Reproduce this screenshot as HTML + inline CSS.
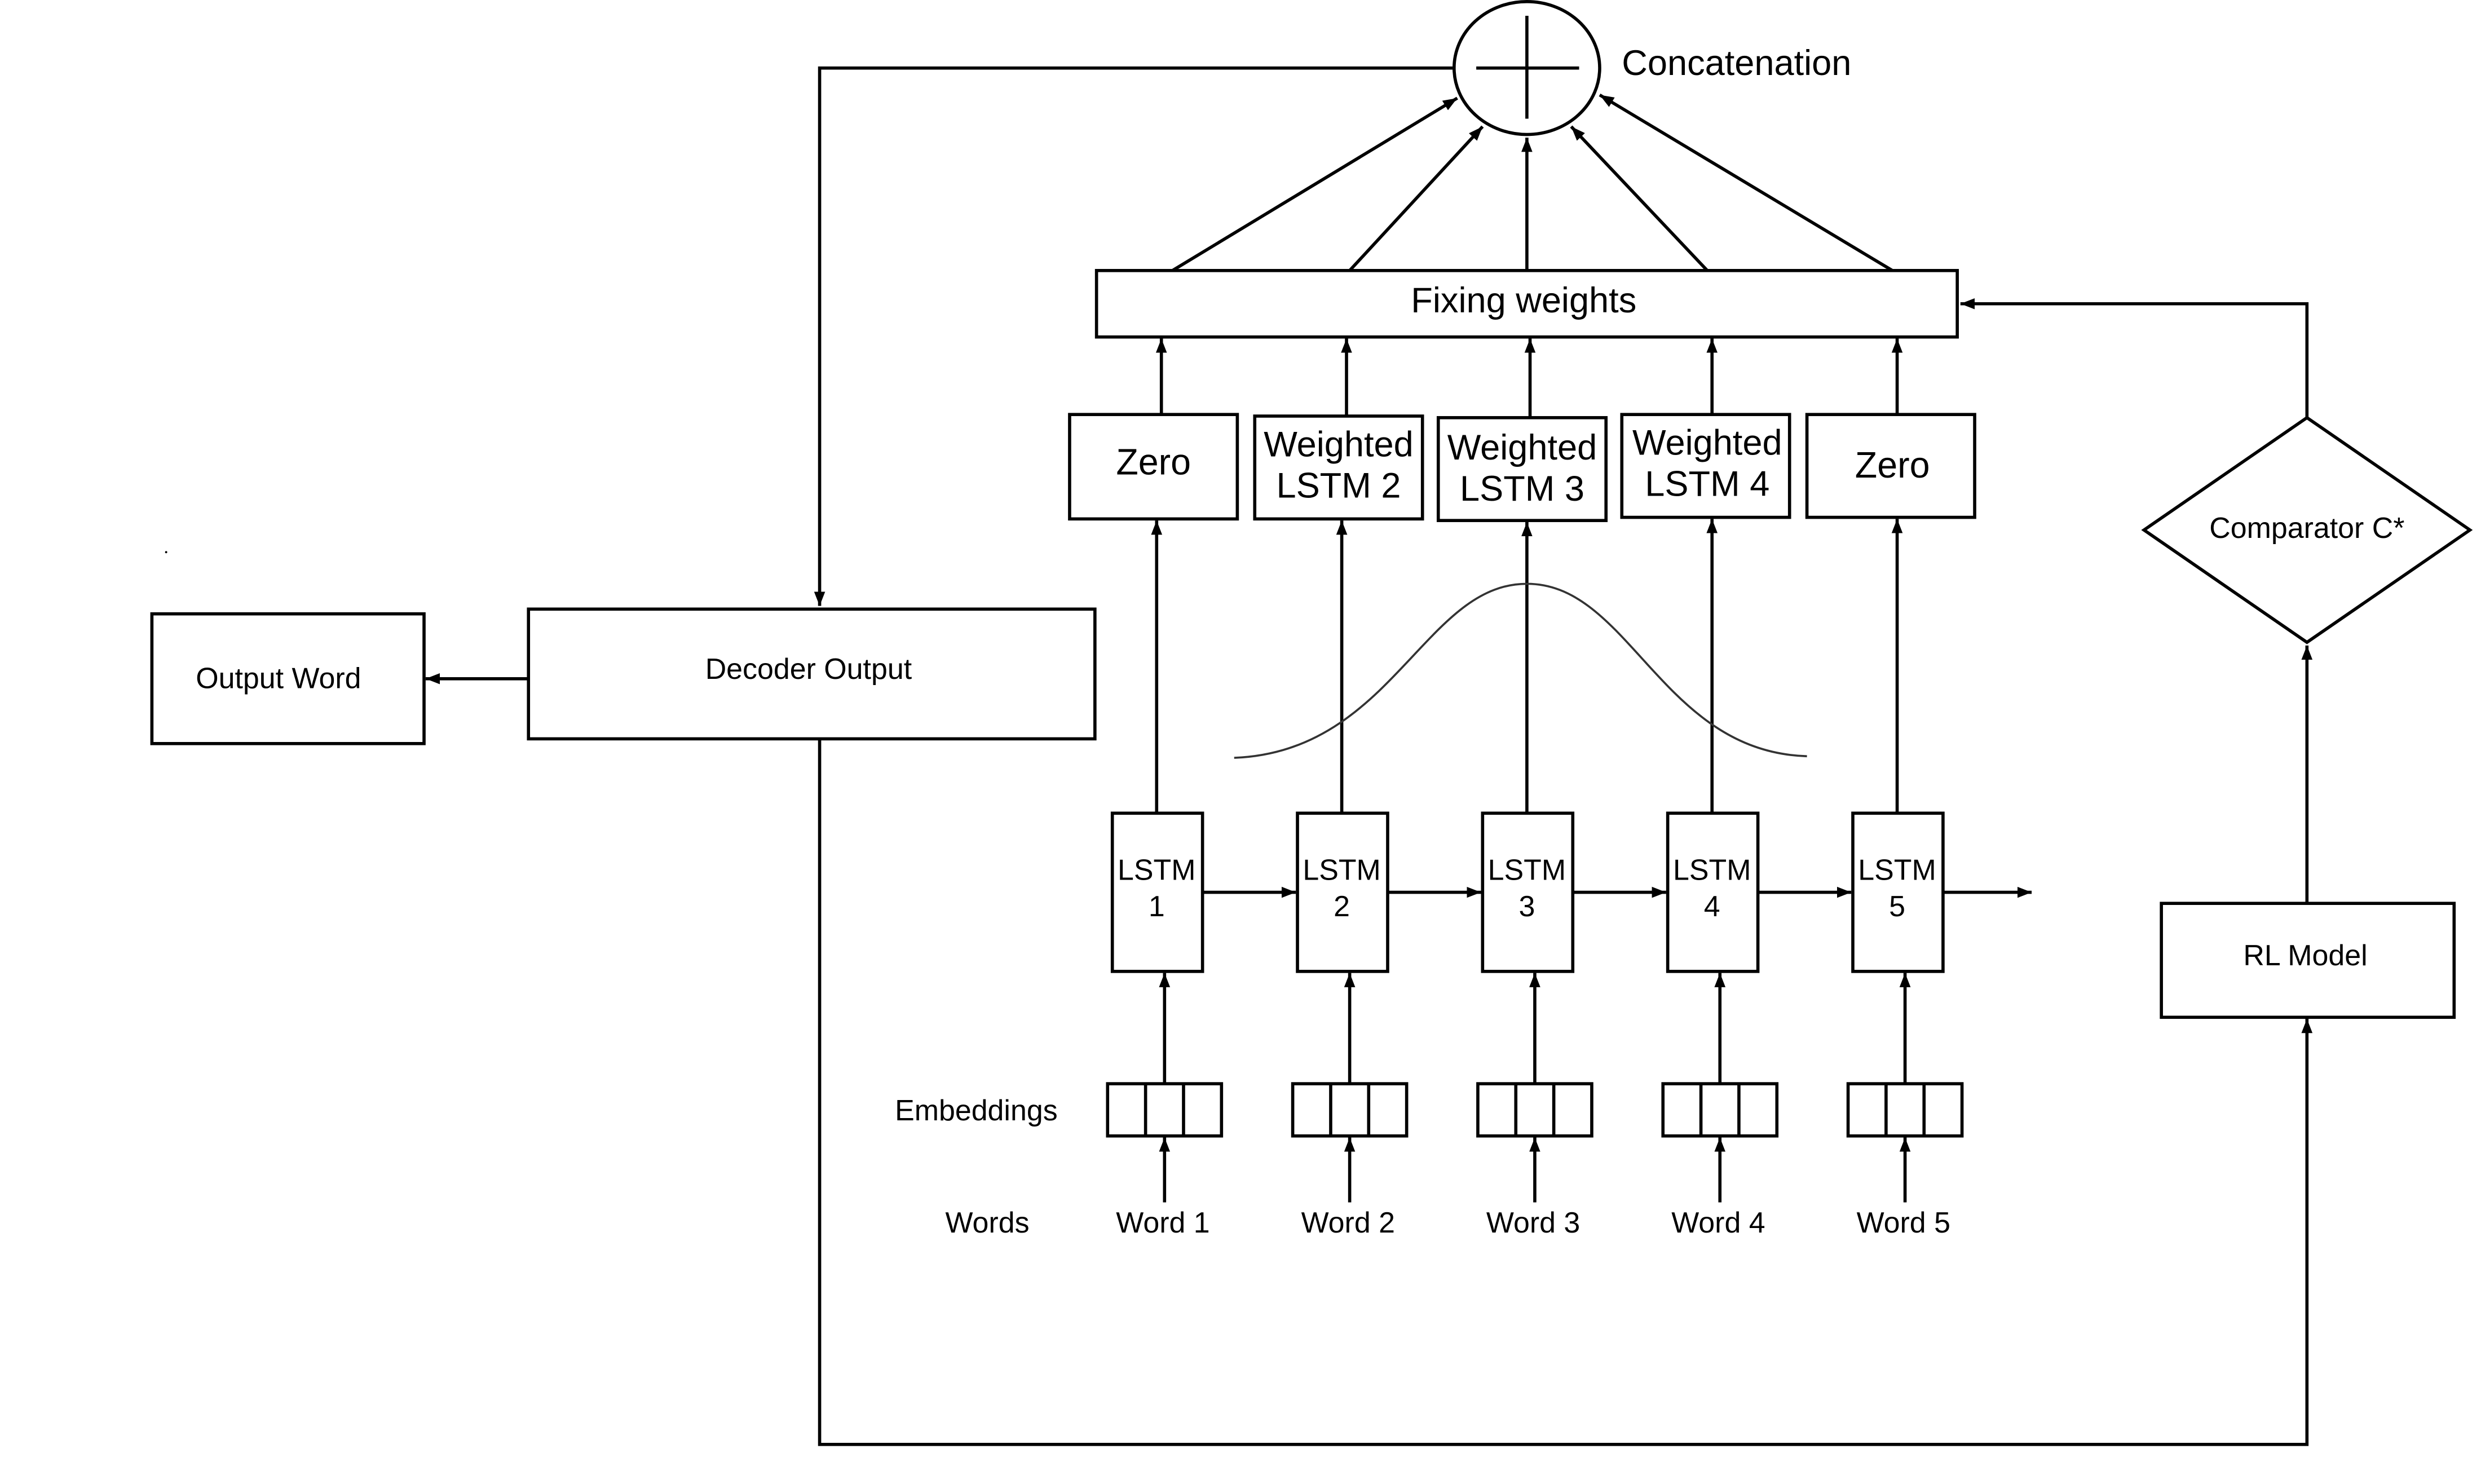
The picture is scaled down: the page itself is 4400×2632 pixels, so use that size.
<!DOCTYPE html>
<html><head><meta charset="utf-8"><style>html,body{margin:0;padding:0;background:#fff}svg{display:block}</style></head>
<body>
<svg width="4400" height="2632" viewBox="0 0 1568 938" preserveAspectRatio="none" xmlns="http://www.w3.org/2000/svg" font-family="Liberation Sans, sans-serif">
<defs>
<marker id="a" markerUnits="userSpaceOnUse" markerWidth="10" markerHeight="8" refX="9" refY="4" orient="auto"><path d="M0,0.5 L9,4 L0,7.5 z" fill="#000"/></marker>
</defs>
<rect width="1568" height="938" fill="#fff"/>
<g stroke="#000" stroke-width="2" fill="none">
<ellipse cx="965" cy="43" rx="46" ry="42"/>
<line x1="933" y1="43" x2="998" y2="43"/>
<line x1="965" y1="10" x2="965" y2="75"/>
<polyline points="918,43 518,43 518,383" marker-end="url(#a)"/>
<rect x="334" y="385" width="358" height="82"/>
<rect x="96" y="388" width="172" height="82"/>
<line x1="334" y1="429" x2="269" y2="429" marker-end="url(#a)"/>
<polyline points="518,467 518,913 1458,913 1458,644" marker-end="url(#a)"/>
<rect x="1366" y="571" width="185" height="72"/>
<line x1="1458" y1="571" x2="1458" y2="408" marker-end="url(#a)"/>
<polygon points="1355,335 1458,264 1561,335 1458,406"/>
<polyline points="1458,264 1458,192 1239,192" marker-end="url(#a)"/>
<rect x="693" y="171" width="544" height="42"/>
<line x1="741" y1="171" x2="921" y2="62" marker-end="url(#a)"/>
<line x1="853" y1="171" x2="937" y2="80" marker-end="url(#a)"/>
<line x1="965" y1="171" x2="965" y2="87" marker-end="url(#a)"/>
<line x1="1079" y1="171" x2="993" y2="80" marker-end="url(#a)"/>
<line x1="1196" y1="171" x2="1011" y2="60" marker-end="url(#a)"/>
<rect x="676" y="262" width="106" height="66"/>
<rect x="793" y="263" width="106" height="65"/>
<rect x="909" y="264" width="106" height="65"/>
<rect x="1025" y="262" width="106" height="65"/>
<rect x="1142" y="262" width="106" height="65"/>
<line x1="734" y1="262" x2="734" y2="214" marker-end="url(#a)"/>
<line x1="851" y1="263" x2="851" y2="214" marker-end="url(#a)"/>
<line x1="967" y1="264" x2="967" y2="214" marker-end="url(#a)"/>
<line x1="1082" y1="262" x2="1082" y2="214" marker-end="url(#a)"/>
<line x1="1199" y1="262" x2="1199" y2="214" marker-end="url(#a)"/>
<rect x="703" y="514" width="57" height="100"/>
<rect x="820" y="514" width="57" height="100"/>
<rect x="937" y="514" width="57" height="100"/>
<rect x="1054" y="514" width="57" height="100"/>
<rect x="1171" y="514" width="57" height="100"/>
<line x1="731" y1="514" x2="731" y2="329" marker-end="url(#a)"/>
<line x1="848" y1="514" x2="848" y2="329" marker-end="url(#a)"/>
<line x1="965" y1="514" x2="965" y2="330" marker-end="url(#a)"/>
<line x1="1082" y1="514" x2="1082" y2="328" marker-end="url(#a)"/>
<line x1="1199" y1="514" x2="1199" y2="328" marker-end="url(#a)"/>
<line x1="760" y1="564" x2="819" y2="564" marker-end="url(#a)"/>
<line x1="877" y1="564" x2="936" y2="564" marker-end="url(#a)"/>
<line x1="994" y1="564" x2="1053" y2="564" marker-end="url(#a)"/>
<line x1="1111" y1="564" x2="1170" y2="564" marker-end="url(#a)"/>
<line x1="1228" y1="564" x2="1284" y2="564" marker-end="url(#a)"/>
<path d="M780,479 C880,475 900,369 965,369 C1030,369 1050,475 1142,478" stroke="#333" stroke-width="1.3"/>
<g id="e"><rect x="700" y="685" width="72" height="33"/><line x1="724" y1="685" x2="724" y2="718"/><line x1="748" y1="685" x2="748" y2="718"/>
<line x1="736" y1="685" x2="736" y2="615" marker-end="url(#a)"/><line x1="736" y1="760" x2="736" y2="719" marker-end="url(#a)"/></g>
<use href="#e" x="117"/><use href="#e" x="234"/><use href="#e" x="351"/><use href="#e" x="468"/>
</g>
<circle cx="105" cy="349" r="0.7" fill="#000"/>
<g fill="#000" text-anchor="middle" dominant-baseline="central">
<text x="1025" y="40" font-size="22.5" text-anchor="start">Concatenation</text>
<text x="511" y="423" font-size="18.5">Decoder Output</text>
<text x="176" y="429" font-size="18.5">Output Word</text>
<text x="1457" y="604" font-size="18.5">RL Model</text>
<text x="1458" y="334" font-size="18.5">Comparator C*</text>
<text x="963" y="190" font-size="22.5">Fixing weights</text>
<text x="729" y="292" font-size="23">Zero</text>
<text x="846" y="281" font-size="22.5">Weighted</text><text x="846" y="307" font-size="22.5">LSTM 2</text>
<text x="962" y="283" font-size="22.5">Weighted</text><text x="962" y="309" font-size="22.5">LSTM 3</text>
<text x="1079" y="280" font-size="22.5">Weighted</text><text x="1079" y="306" font-size="22.5">LSTM 4</text>
<text x="1196" y="294" font-size="23">Zero</text>
<g font-size="18.5">
<text x="731" y="550">LSTM</text><text x="731" y="573">1</text>
<text x="848" y="550">LSTM</text><text x="848" y="573">2</text>
<text x="965" y="550">LSTM</text><text x="965" y="573">3</text>
<text x="1082" y="550">LSTM</text><text x="1082" y="573">4</text>
<text x="1199" y="550">LSTM</text><text x="1199" y="573">5</text>
<text x="617" y="702">Embeddings</text>
<text x="624" y="773">Words</text>
<text x="735" y="773">Word 1</text>
<text x="852" y="773">Word 2</text>
<text x="969" y="773">Word 3</text>
<text x="1086" y="773">Word 4</text>
<text x="1203" y="773">Word 5</text>
</g>
</g>
</svg>
</body></html>
